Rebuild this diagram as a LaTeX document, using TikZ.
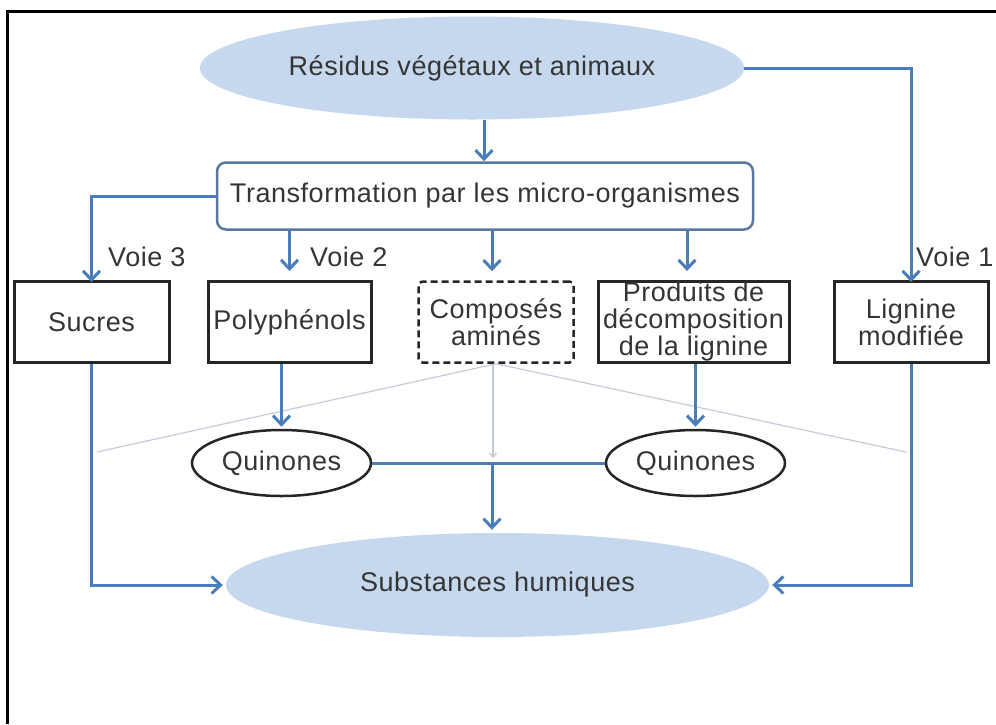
\documentclass[tikz,border=0pt]{standalone}
\usepackage{fontspec}
\setmainfont{Liberation Sans}[LetterSpace=2.0]
\usetikzlibrary{shapes.geometric,arrows.meta}
\definecolor{arrblue}{HTML}{4A7DBA}
\definecolor{ellfill}{HTML}{C6D8EE}
\definecolor{boxblue}{HTML}{5A789F}
\definecolor{txt}{HTML}{353535}
\definecolor{faint}{HTML}{C4CCD8}
\begin{document}
\begin{tikzpicture}[x=1pt,y=-1pt,
  every node/.style={font=\fontsize{27}{27}\selectfont, text=txt, inner sep=0pt, align=center},
  arr/.style={draw=arrblue, line width=3pt, -{Straight Barb[length=9pt,width=17pt,line width=3pt]}},
  plainblue/.style={draw=arrblue, line width=3pt},
  blob/.style={ellipse, fill=ellfill, draw=none},
  sqbox/.style={rectangle, draw=black!85, line width=3pt},
  quin/.style={ellipse, draw=black!85, line width=2.5pt, fill=white},
  faintline/.style={draw=faint, line width=1.2pt},
  voie/.style={anchor=base west}
]
\useasboundingbox (0,0) rectangle (996,724);
\fill[white] (0,0) rectangle (996,724);
% frame
\draw[line width=3pt, black] (7,724) -- (7,11) -- (996,11);

% nodes
\node[blob, minimum width=544pt, minimum height=103pt] (res) at (472,68) {Résidus végétaux et animaux};
\node[rectangle, rounded corners=9pt, draw=boxblue, line width=2.5pt, minimum width=536pt, minimum height=67pt] (trans) at (485,196) {Transformation par les micro-organismes};

\node[sqbox, minimum width=155pt, minimum height=81pt] (sucres) at (91.5,322) {Sucres};
\node[sqbox, minimum width=163pt, minimum height=81pt] (poly) at (289.5,322) {Polyphénols};
\node[rectangle, rounded corners=4pt, draw=black!85, line width=2.5pt, dashed, dash pattern=on 7pt off 4pt, minimum width=155pt, minimum height=81pt] (comp) at (496,322) {Composés\\aminés};
\node[sqbox, minimum width=191pt, minimum height=81pt] (prod) at (693.5,322) {Produits de\\décomposition\\de la lignine};
\node[sqbox, minimum width=154pt, minimum height=81pt] (lig) at (911,322) {Lignine\\modifiée};

% faint lines (under)
\coordinate (fl) at (97,452);
\coordinate (fr) at (906,452);
\coordinate (fm) at (493,458);
\draw[faintline] (comp.south) -- (fl);
\draw[faintline] (comp.south) -- (fr);
\draw[faintline, -{Straight Barb[length=4pt,width=7pt]}] ([xshift=-3pt]comp.south) -- (fm);

\node[quin, minimum width=179pt, minimum height=66pt] (q1) at (281.5,463) {Quinones};
\node[quin, minimum width=179pt, minimum height=66pt] (q2) at (695.5,463) {Quinones};
\node[blob, minimum width=543pt, minimum height=104pt] (sub) at (497.5,585) {Substances humiques};

% labels
\node[voie] (v3) at (108,266) {Voie 3};
\node[voie] (v2) at (310,266) {Voie 2};
\node[voie] (v1) at (916,266) {Voie 1};

% arrows from top
\draw[arr] ([xshift=12pt]res.south) -- ([xshift=12pt]res.south |- trans.north);
\draw[arr] (res.east) -| ([yshift=-2pt]lig.north);
\draw[arr] (trans.west) -| ([yshift=-2pt]sucres.north);
\draw[arr, shorten >=9pt] (trans.south -| poly) -- (poly.north);
\draw[arr, shorten >=9pt] ([xshift=-4pt]trans.south -| comp) -- ([xshift=-4pt]comp.north);
\draw[arr, shorten >=9pt] ([xshift=-6.5pt]trans.south -| prod) -- ([xshift=-6.5pt]prod.north);

% to quinones
\draw[arr, shorten >=2pt] (poly.south -| q1) -- (q1.north);
\draw[arr, shorten >=2pt] (prod.south -| q2) -- (q2.north);

% quinones link
\draw[plainblue] (q1.east) -- (q2.west);
\coordinate (mid) at (492,463);
\draw[arr, shorten >=3pt] (mid) -- (mid |- sub.north);

% side paths
\draw[arr, shorten >=3pt] (sucres.south) |- (sub.west);
\draw[arr, shorten >=3pt] (lig.south) |- (sub.east);
\end{tikzpicture}
\end{document}
